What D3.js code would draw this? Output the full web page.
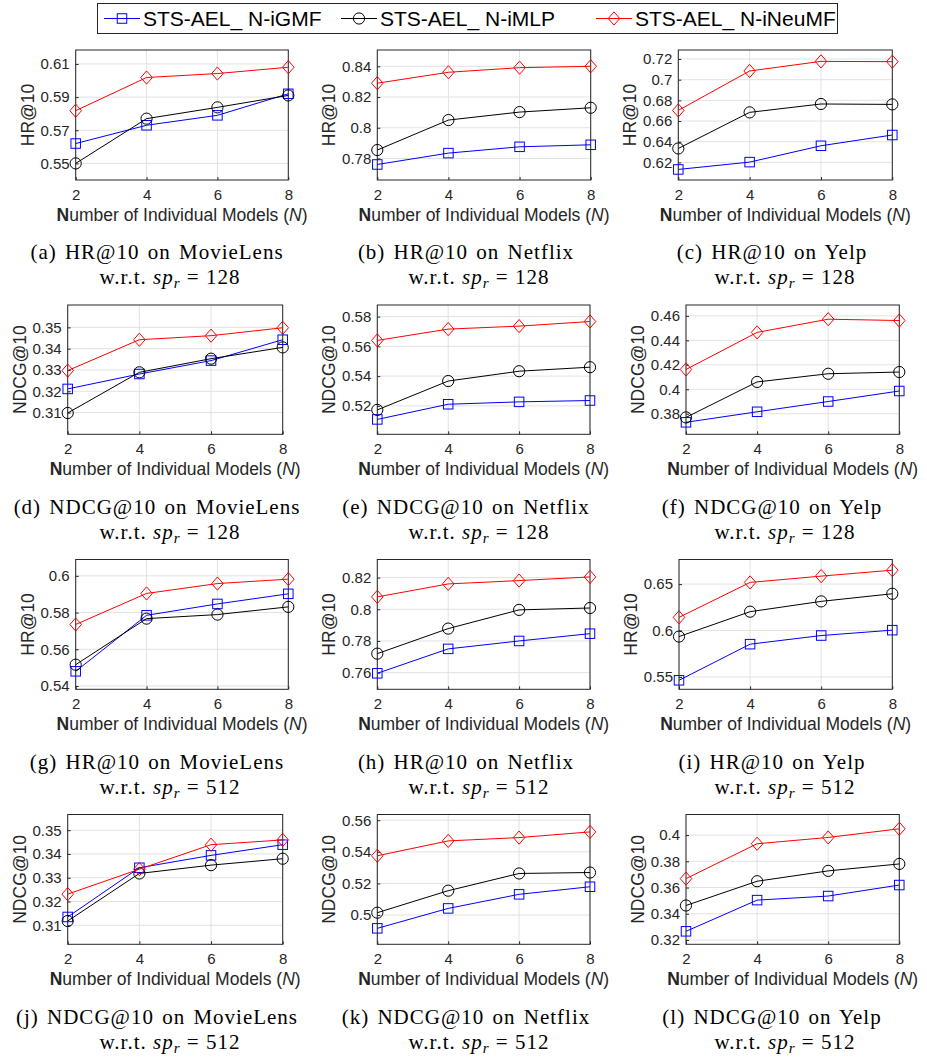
<!DOCTYPE html>
<html><head><meta charset="utf-8">
<script src="https://cdn.jsdelivr.net/npm/d3@7"></script>
<style>
body{margin:0;background:#fff;}
svg{display:block;}
</style></head>
<body><svg id="chart" width="927" height="1059"></svg>
<script>
// ---------- data ----------
const xValues = [2, 4, 6, 8];
const seriesNames = ["STS-AEL_ N-iGMF", "STS-AEL_ N-iMLP", "STS-AEL_ N-iNeuMF"];
const panelLetters = ["a","b","c","d","e","f","g","h","i","j","k","l"];
const panelMetrics = ["HR@10","HR@10","HR@10","NDCG@10","NDCG@10","NDCG@10","HR@10","HR@10","HR@10","NDCG@10","NDCG@10","NDCG@10"];
const panelDatasets = ["MovieLens","Netflix","Yelp","MovieLens","Netflix","Yelp","MovieLens","Netflix","Yelp","MovieLens","Netflix","Yelp"];
const panelSpr = [128,128,128,128,128,128,512,512,512,512,512,512];

// y tick labels per panel
const yTicksA = [0.55, 0.57, 0.59, 0.61];
const yTicksB = [0.78, 0.8, 0.82, 0.84];
const yTicksC = [0.62, 0.64, 0.66, 0.68, 0.7, 0.72];
const yTicksD = [0.31, 0.32, 0.33, 0.34, 0.35];
const yTicksE = [0.52, 0.54, 0.56, 0.58];
const yTicksF = [0.38, 0.4, 0.42, 0.44, 0.46];
const yTicksG = [0.54, 0.56, 0.58, 0.6];
const yTicksH = [0.76, 0.78, 0.8, 0.82];
const yTicksI = [0.55, 0.6, 0.65];
const yTicksJ = [0.31, 0.32, 0.33, 0.34, 0.35];
const yTicksK = [0.5, 0.52, 0.54, 0.56];
const yTicksL = [0.32, 0.34, 0.36, 0.38, 0.4];

// y axis limits per panel
const yLimA = [0.540, 0.6184];
const yLimB = [0.766, 0.8506];
const yLimC = [0.603, 0.7287];
const yLimD = [0.2998, 0.3605];
const yLimE = [0.5009, 0.5878];
const yLimF = [0.3632, 0.4689];
const yLimG = [0.5382, 0.6089];
const yLimH = [0.7495, 0.8314];
const yLimI = [0.5367, 0.6765];
const yLimJ = [0.302, 0.3566];
const yLimK = [0.4815, 0.5636];
const yLimL = [0.3167, 0.4157];

// series values per panel: [N-iGMF, N-iMLP, N-iNeuMF]
const valuesA = [[0.562, 0.573, 0.579, 0.592], [0.550, 0.577, 0.5838, 0.591], [0.5818, 0.6018, 0.6042, 0.608]];
const valuesB = [[0.7761, 0.7835, 0.7876, 0.7889], [0.7855, 0.805, 0.8102, 0.813], [0.829, 0.8361, 0.8391, 0.840]];
const valuesC = [[0.6132, 0.6203, 0.6361, 0.6465], [0.6335, 0.6684, 0.6765, 0.6761], [0.6703, 0.7084, 0.7177, 0.7174]];
const valuesD = [[0.3211, 0.3281, 0.3344, 0.3442], [0.3098, 0.3289, 0.3353, 0.3406], [0.3297, 0.3442, 0.3461, 0.3498]];
const valuesE = [[0.5109, 0.5211, 0.5227, 0.5236], [0.5173, 0.5367, 0.5433, 0.546], [0.564, 0.5716, 0.5736, 0.5767]];
const valuesF = [[0.373, 0.3816, 0.390, 0.3986], [0.377, 0.406, 0.4127, 0.4141], [0.4162, 0.4465, 0.4573, 0.4562]];
const valuesG = [[0.548, 0.5785, 0.5847, 0.5902], [0.5516, 0.5767, 0.5789, 0.5831], [0.5735, 0.5904, 0.5958, 0.5982]];
const valuesH = [[0.7596, 0.775, 0.780, 0.7846], [0.772, 0.7878, 0.7996, 0.8008], [0.8078, 0.816, 0.8181, 0.8204]];
const valuesI = [[0.5464, 0.5853, 0.5946, 0.6004], [0.5935, 0.6203, 0.6314, 0.6396], [0.6142, 0.6518, 0.6586, 0.665]];
const valuesJ = [[0.3135, 0.3342, 0.3394, 0.3439], [0.3118, 0.3318, 0.3353, 0.338], [0.3231, 0.3336, 0.3439, 0.3459]];
const valuesK = [[0.4916, 0.5042, 0.5131, 0.5179], [0.5015, 0.5154, 0.5263, 0.5269], [0.5375, 0.5469, 0.549, 0.5526]];
const valuesL = [[0.3266, 0.3504, 0.3535, 0.3619], [0.3463, 0.3648, 0.3727, 0.378], [0.3668, 0.3934, 0.3982, 0.4048]];

const allTicks = [yTicksA,yTicksB,yTicksC,yTicksD,yTicksE,yTicksF,yTicksG,yTicksH,yTicksI,yTicksJ,yTicksK,yTicksL];
const allLims = [yLimA,yLimB,yLimC,yLimD,yLimE,yLimF,yLimG,yLimH,yLimI,yLimJ,yLimK,yLimL];
const allValues = [valuesA,valuesB,valuesC,valuesD,valuesE,valuesF,valuesG,valuesH,valuesI,valuesJ,valuesK,valuesL];

// ---------- layout / style ----------
const colors = ["#0000ff", "#000000", "#ff0000"];
const markers = ["square", "circle", "diamond"];
// plot boxes: [left, right, top, bottom]
const boxes = [
  [75.7, 288.3, 50, 180], [377.3, 590.7, 50, 180], [678.3, 892.3, 50, 180],
  [67.7, 282.7, 305, 434.3], [377.3, 590, 305, 434.3], [686, 899.3, 305, 434.3],
  [75.7, 288.3, 559.5, 689.3], [377.3, 590, 559.5, 689.3], [679, 892.3, 559.5, 689.3],
  [67.7, 282.7, 814.5, 944.3], [377.3, 590, 814.5, 944.3], [686, 899.3, 814.5, 944.3]
];
const captionCenters = [157, 466, 772];
const captionRowY = [259, 514, 769, 1024];

const sansFont = "'Liberation Sans', Arial, Helvetica, sans-serif";
const serifFont = "'Liberation Serif', 'Times New Roman', serif";
const axisColor = "#262626";
const gridColor = "#e2e2e2";

const svg = d3.select("#chart");
svg.append("rect").attr("width", 927).attr("height", 1059).attr("fill", "#fff");

function drawMarker(g, type, cx, cy, color) {
  if (type === "square") {
    const s = 9.5;
    g.append("rect").attr("x", cx - s/2).attr("y", cy - s/2).attr("width", s).attr("height", s)
      .attr("fill", "none").attr("stroke", color).attr("stroke-width", 1);
  } else if (type === "circle") {
    g.append("circle").attr("cx", cx).attr("cy", cy).attr("r", 5.6)
      .attr("fill", "none").attr("stroke", color).attr("stroke-width", 1);
  } else {
    const w = 5.8, h = 6.6;
    g.append("path").attr("d", `M${cx},${cy-h}L${cx+w},${cy}L${cx},${cy+h}L${cx-w},${cy}Z`)
      .attr("fill", "none").attr("stroke", color).attr("stroke-width", 1);
  }
}

const fmt = v => String(+v.toFixed(3));

allValues.forEach((vals, i) => {
  const [L, R, T, B] = boxes[i];
  const g = svg.append("g");
  const x = d3.scaleLinear().domain([2, 8]).range([L, R]);
  const y = d3.scaleLinear().domain(allLims[i]).range([B, T]);

  // grid
  g.append("g").selectAll("line.gx").data(xValues).join("line")
    .attr("x1", d => x(d)).attr("x2", d => x(d)).attr("y1", T).attr("y2", B)
    .attr("stroke", gridColor).attr("stroke-width", 1);
  g.append("g").selectAll("line.gy").data(allTicks[i]).join("line")
    .attr("x1", L).attr("x2", R).attr("y1", d => y(d)).attr("y2", d => y(d))
    .attr("stroke", gridColor).attr("stroke-width", 1);

  // axes
  const xa = g.append("g").attr("transform", `translate(0,${B})`)
    .call(d3.axisBottom(x).tickValues(xValues).tickSizeInner(-3).tickSizeOuter(0).tickPadding(9).tickFormat(d3.format("d")));
  const ya = g.append("g").attr("transform", `translate(${L},0)`)
    .call(d3.axisLeft(y).tickValues(allTicks[i]).tickSizeInner(-3).tickSizeOuter(0).tickPadding(6).tickFormat(fmt));
  [xa, ya].forEach(a => {
    a.select(".domain").remove();
    a.selectAll("line").attr("stroke", axisColor);
    a.selectAll("text").attr("fill", axisColor).style("font-family", sansFont).style("font-size", "15px");
  });
  g.append("rect").attr("x", L).attr("y", T).attr("width", R - L).attr("height", B - T)
    .attr("fill", "none").attr("stroke", axisColor).attr("stroke-width", 1);

  // series
  vals.forEach((ser, s) => {
    const pts = ser.map((v, j) => [x(xValues[j]), y(v)]);
    g.append("path").attr("d", d3.line()(pts)).attr("fill", "none")
      .attr("stroke", colors[s]).attr("stroke-width", 1);
    pts.forEach(p => drawMarker(g, markers[s], p[0], p[1], colors[s]));
  });

  // y label
  g.append("text").attr("transform", `translate(${L - 48},${(T + B) / 2}) rotate(-90)`)
    .attr("text-anchor", "middle").attr("dominant-baseline", "central")
    .attr("fill", axisColor).style("font-family", sansFont).style("font-size", "17.5px")
    .text(panelMetrics[i]);

  // x label
  const xl = g.append("text").attr("x", (L + R) / 2).attr("y", B + 41)
    .attr("text-anchor", "middle").attr("fill", axisColor)
    .style("font-family", sansFont).style("font-size", "17.5px");
  xl.append("tspan").style("font-weight", "bold").text("N");
  xl.append("tspan").text("umber of Individual Models (");
  xl.append("tspan").style("font-style", "italic").text("N");
  xl.append("tspan").text(")");

  // caption
  const col = i % 3, row = Math.floor(i / 3);
  const cx = captionCenters[col], cy = captionRowY[row];
  svg.append("text").attr("x", cx).attr("y", cy).attr("text-anchor", "middle")
    .style("font-family", serifFont).style("font-size", "21px").style("letter-spacing", "1px")
    .style("word-spacing", "2px").attr("fill", "#000")
    .text(`(${panelLetters[i]}) ${panelMetrics[i]} on ${panelDatasets[i]}`);
  const c2 = svg.append("text").attr("x", cx + 13).attr("y", cy + 25).attr("text-anchor", "middle")
    .style("font-family", serifFont).style("font-size", "21px").style("letter-spacing", "1px").attr("fill", "#000");
  c2.append("tspan").text("w.r.t. ");
  c2.append("tspan").style("font-style", "italic").text("sp");
  c2.append("tspan").style("font-style", "italic").style("font-size", "15px").attr("dy", 4).text("r");
  c2.append("tspan").attr("dy", -4).text(" = " + panelSpr[i]);
});

// ---------- legend ----------
const lg = svg.append("g");
lg.append("rect").attr("x", 97.5).attr("y", 3.5).attr("width", 740).attr("height", 30)
  .attr("fill", "#fff").attr("stroke", axisColor).attr("stroke-width", 1);
const legendX = [104, 341, 596];
seriesNames.forEach((name, s) => {
  const x0 = legendX[s], yc = 18.5;
  lg.append("line").attr("x1", x0).attr("x2", x0 + 36).attr("y1", yc).attr("y2", yc)
    .attr("stroke", colors[s]).attr("stroke-width", 1);
  drawMarker(lg, markers[s], x0 + 18, yc, colors[s]);
  lg.append("text").attr("x", x0 + 39).attr("y", yc).attr("dominant-baseline", "central")
    .attr("fill", "#000").style("font-family", sansFont).style("font-size", "21px").text(name);
});
</script>
</body></html>
